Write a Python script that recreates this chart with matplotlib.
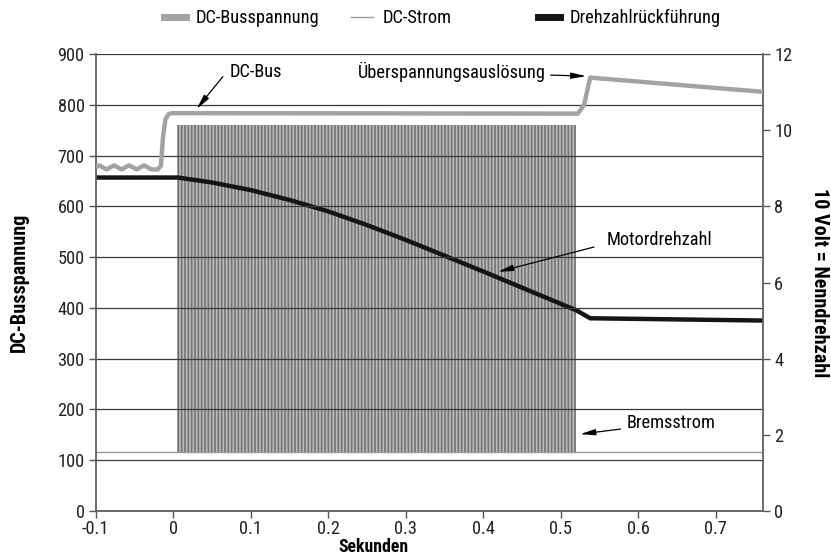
import matplotlib
matplotlib.use("Agg")
import matplotlib.pyplot as plt
from matplotlib.lines import Line2D
from matplotlib import font_manager

# narrow face if installed, otherwise a slim sans
names = {f.name for f in font_manager.fontManager.ttflist}
wanted = ["Liberation Sans Narrow", "Roboto Condensed", "Open Sans Condensed",
          "DejaVu Sans Condensed", "Roboto"]
fams = [n for n in wanted if n in names][:1]
plt.rcParams['font.family'] = fams + ['DejaVu Sans']
plt.rcParams['hatch.linewidth'] = 1.2

# DC bus voltage (left axis, V)
bus_t = [-0.100, -0.0956, -0.0908, -0.086, -0.0812, -0.0763, -0.0715, -0.0667,
         -0.062, -0.057, -0.052, -0.0473, -0.0425, -0.0377, -0.033, -0.028,
         -0.020, -0.016, -0.013, -0.010, -0.006, -0.002, 0.522, 0.530, 0.538, 0.761]
bus_v = [677, 681, 677, 673, 677, 681, 677, 673,
         677, 681, 677, 673, 677, 681, 677, 673,
         673, 680, 740, 772, 782, 784, 783, 800, 854, 826]

# speed feedback (right axis, volts, 10 V = rated speed)
speed_t = [-0.100, 0.006, 0.050, 0.100, 0.150, 0.200, 0.250, 0.300, 0.400, 0.520, 0.538, 0.761]
speed_v = [8.76, 8.76, 8.63, 8.43, 8.17, 7.87, 7.51, 7.12, 6.29, 5.27, 5.06, 5.00]

# DC current (right axis): chopper pulses between low and high level
strom_t = [-0.100, 0.761]
strom_low = 1.55
strom_high = 10.15
brake_on = 0.005
brake_off = 0.520

left_ticks = [0, 100, 200, 300, 400, 500, 600, 700, 800, 900]
right_ticks = [0, 2, 4, 6, 8, 10, 12]
x_ticks = [-0.1, 0, 0.1, 0.2, 0.3, 0.4, 0.5, 0.6, 0.7]
x_labels = ["-0.1", "0", "0.1", "0.2", "0.3", "0.4", "0.5", "0.6", "0.7"]
legend_labels = ["DC-Busspannung", "DC-Strom", "Drehzahlrückführung"]

FS = 13.2      # ticks, notes, legend
FSB = 14.5     # bold axis titles
fig = plt.figure(figsize=(8.31, 5.57), dpi=100)
ax = fig.add_axes([0.1152, 0.0831, 0.8030, 0.8194])
ax2 = ax.twinx()
ax.set_zorder(ax2.get_zorder() + 1)
ax.patch.set_visible(False)

BUS = '#a3a3a3'
STROM = '#9a9a9a'
SPEED = '#151515'

# current: baseline + dense pulse block
ax2.plot(strom_t, [strom_low, strom_low], color=STROM, lw=1.0, zorder=1)
ax2.fill_between([brake_on, brake_off], strom_low, strom_high,
                 facecolor='#bcbcbc', edgecolor='#737373', hatch='|||||',
                 linewidth=0, zorder=1)
ax2.plot(speed_t, speed_v, color=SPEED, lw=3.2, solid_joinstyle='miter', zorder=3)

# grid on left axis, drawn over the pulses
for v in left_ticks:
    ax.axhline(v, color='#3a3a3a', lw=0.9, zorder=1)
ax.plot(bus_t, bus_v, color=BUS, lw=3.2, solid_joinstyle='round',
        solid_capstyle='butt', zorder=4)

ax.set_xlim(-0.1, 0.761)
ax.set_ylim(0, 900)
ax2.set_ylim(0, 12)
ax.set_xticks(x_ticks)
ax.set_xticklabels(x_labels)
ax.set_yticks(left_ticks)
ax2.set_yticks(right_ticks)

for a in (ax, ax2):
    a.tick_params(direction='out', length=5, width=1, color='#555555',
                  labelsize=FS, labelcolor='#222222', pad=3)
    for s in a.spines.values():
        s.set_color('#666666')
        s.set_linewidth(1.1)
ax.tick_params(axis='x', pad=2)
ax.spines['top'].set_visible(False)
ax2.spines['top'].set_visible(False)

fig.text(373 / 831, 1 / 557, "Sekunden", ha='center', va='bottom',
         fontsize=12.8, fontweight='bold')
ax.text(-0.115, 0.5, "DC-Busspannung", transform=ax.transAxes, rotation=90,
        ha='center', va='center', fontsize=FSB, fontweight='bold')
ax.text(1.084, 0.5, "10 Volt = Nenndrehzahl", transform=ax.transAxes, rotation=-90,
        ha='center', va='center', fontsize=FSB, fontweight='bold')

arrow = dict(arrowstyle='-|>,head_width=0.18,head_length=0.9', color='black',
             lw=0.9, shrinkA=0, shrinkB=0)
ax.text(0.107, 865, "DC-Bus", fontsize=FS, ha='center', va='center')
ax.annotate("", xy=(0.030, 792), xytext=(0.064, 856), arrowprops=arrow)
ax.text(0.359, 865, "Überspannungsauslösung", fontsize=FS, ha='center', va='center')
ax.annotate("", xy=(0.533, 857), xytext=(0.487, 859), arrowprops=arrow)
ax.text(0.627, 534, "Motordrehzahl", fontsize=FS, ha='center', va='center')
ax.annotate("", xy=(0.419, 471), xytext=(0.543, 520), arrowprops=arrow)
ax.text(0.642, 173, "Bremsstrom", fontsize=FS, ha='center', va='center')
ax.annotate("", xy=(0.525, 151), xytext=(0.577, 161), arrowprops=arrow)

# legend entries are spaced unevenly in the original, so one legend per entry
handles = [Line2D([], [], color=BUS, lw=5),
           Line2D([], [], color=STROM, lw=1),
           Line2D([], [], color=SPEED, lw=5)]
starts = [164 / 831, 351 / 831, 538 / 831]
for h, lab, x0 in zip(handles, legend_labels, starts):
    fig.legend([h], [lab], loc='center left', bbox_to_anchor=(x0, 0.967),
               frameon=False, fontsize=FS, handlelength=1.2, handletextpad=0.5,
               borderpad=0, borderaxespad=0)

fig.savefig("out.png", dpi=100)
